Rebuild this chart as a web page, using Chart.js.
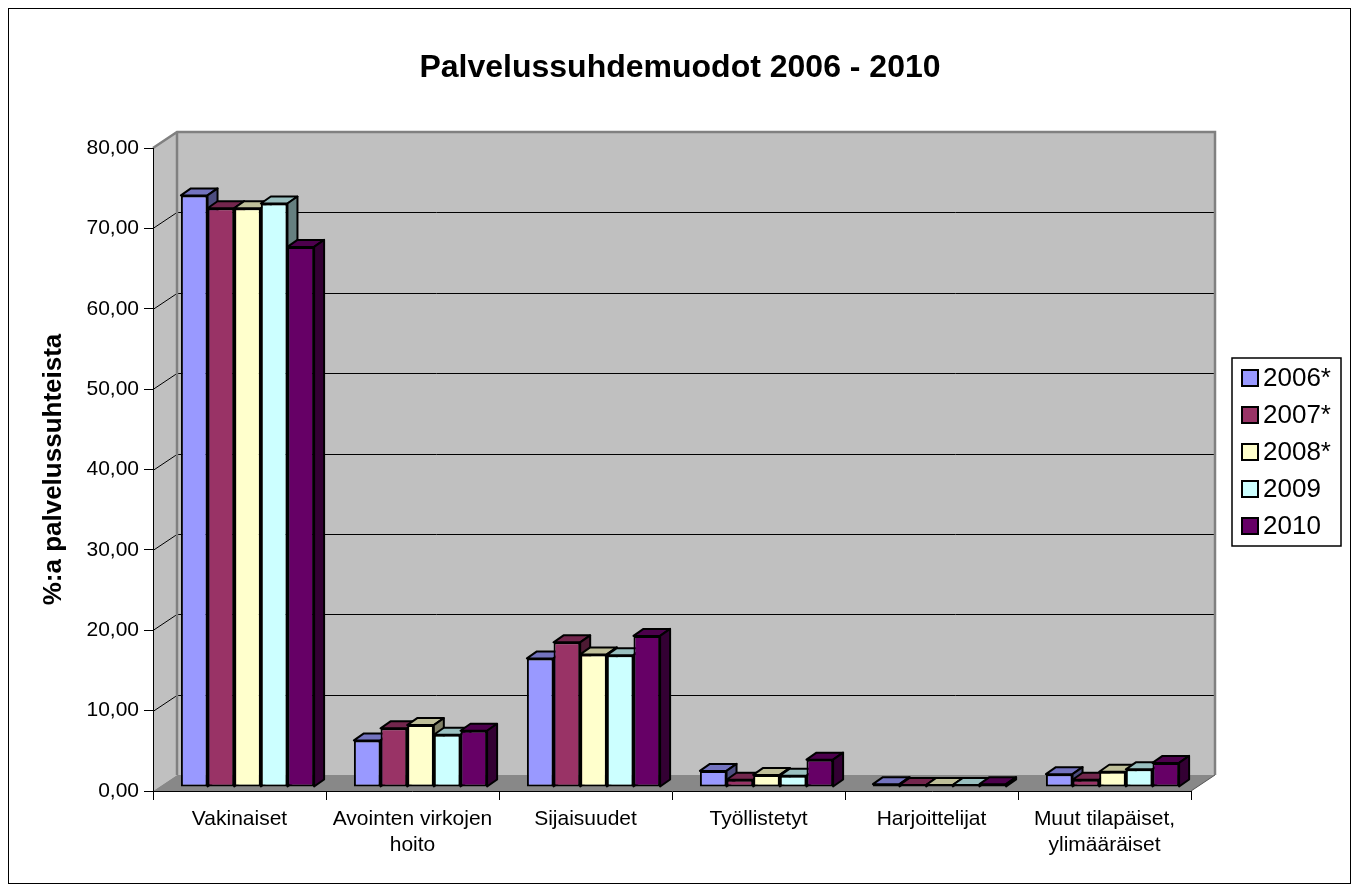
<!DOCTYPE html>
<html lang="fi">
<head>
    <meta charset="utf-8" />
    <title>Palvelussuhdemuodot 2006 - 2010</title>
    <script src="https://cdnjs.cloudflare.com/ajax/libs/Chart.js/4.4.1/chart.umd.min.js"></script>
    <style>
        html, body { margin: 0; padding: 0; background: #fff; }
        canvas { display: block; }
    </style>
</head>
<body>
    <canvas id="palvelusChart" width="1359" height="891"></canvas>
    <script>
        const categories = ['Vakinaiset', ['Avointen virkojen', 'hoito'], 'Sijaisuudet', 'Työllistetyt', 'Harjoittelijat', ['Muut tilapäiset,', 'ylimääräiset']];
        const years = ['2006*', '2007*', '2008*', '2009', '2010'];
        const v2006 = [73.6, 5.8, 16.0, 2.0, 0.35, 1.6];
        const v2007 = [72.0, 7.3, 18.0, 0.9, 0.25, 0.9];
        const v2008 = [72.0, 7.7, 16.5, 1.5, 0.25, 1.9];
        const v2009 = [72.6, 6.5, 16.4, 1.4, 0.25, 2.2];
        const v2010 = [67.2, 7.0, 18.8, 3.4, 0.35, 3.0];
        const yTicks = [0, 10, 20, 30, 40, 50, 60, 70, 80];

        const seriesValues = [v2006, v2007, v2008, v2009, v2010];
        const colors = ['#9999FF', '#993366', '#FFFFCC', '#CCFFFF', '#660066'];
        const FONT = "'Liberation Sans', Arial, sans-serif";

        // depth of the walls and of the bars (pixels)
        const WALL_DX = 24, WALL_DY = 16;
        const BAR_DX = 10, BAR_DY = 7;
        const BAR_SHIFT_X = 8, BAR_SHIFT_Y = -4;

        function shade(hex, f) {
            const n = parseInt(hex.slice(1), 16);
            const r = Math.round(((n >> 16) & 255) * f);
            const g = Math.round(((n >> 8) & 255) * f);
            const b = Math.round((n & 255) * f);
            return 'rgb(' + r + ',' + g + ',' + b + ')';
        }

        function poly(ctx, pts, fill, stroke, lw) {
            ctx.beginPath();
            ctx.moveTo(pts[0][0], pts[0][1]);
            for (let i = 1; i < pts.length; i++) ctx.lineTo(pts[i][0], pts[i][1]);
            ctx.closePath();
            if (fill) { ctx.fillStyle = fill; ctx.fill(); }
            if (stroke) { ctx.strokeStyle = stroke; ctx.lineWidth = lw || 1; ctx.stroke(); }
        }

        const wallsPlugin = {
            id: 'walls',
            beforeDraw(chart) {
                const ctx = chart.ctx;
                const ys = chart.scales.y;
                const L = chart.chartArea.left, R = chart.chartArea.right;
                const T = ys.getPixelForValue(yTicks[yTicks.length - 1]);
                const B = ys.getPixelForValue(0);
                ctx.save();
                // back wall
                poly(ctx, [[L + WALL_DX, T - WALL_DY], [R + WALL_DX, T - WALL_DY], [R + WALL_DX, B - WALL_DY], [L + WALL_DX, B - WALL_DY]], '#C0C0C0');
                // left wall
                poly(ctx, [[L, T], [L + WALL_DX, T - WALL_DY], [L + WALL_DX, B - WALL_DY], [L, B]], '#C0C0C0');
                // floor
                poly(ctx, [[L, B], [R, B], [R + WALL_DX, B - WALL_DY], [L + WALL_DX, B - WALL_DY]], '#888888');
                // gridlines
                ctx.strokeStyle = '#000';
                ctx.lineWidth = 1;
                yTicks.forEach(v => {
                    if (v === 0 || v === yTicks[yTicks.length - 1]) return;
                    const y = Math.round(ys.getPixelForValue(v)) + 0.5;
                    ctx.beginPath();
                    ctx.moveTo(L, y);
                    ctx.lineTo(L + WALL_DX, y - WALL_DY);
                    ctx.lineTo(R + WALL_DX, y - WALL_DY);
                    ctx.stroke();
                });
                // wall outlines
                ctx.strokeStyle = '#808080';
                ctx.lineWidth = 2.5;
                ctx.beginPath();
                ctx.moveTo(L, T);
                ctx.lineTo(L + WALL_DX, T - WALL_DY);
                ctx.lineTo(R + WALL_DX, T - WALL_DY);
                ctx.lineTo(R + WALL_DX, B - WALL_DY);
                ctx.moveTo(L + WALL_DX, T - WALL_DY);
                ctx.lineTo(L + WALL_DX, B - WALL_DY);
                ctx.stroke();
                ctx.strokeStyle = '#555';
                ctx.lineWidth = 1;
                ctx.beginPath();
                ctx.moveTo(R, B);
                ctx.lineTo(R + WALL_DX, B - WALL_DY);
                ctx.stroke();
                ctx.restore();
            },
            beforeDatasetDraw() {
                return false;
            },
            afterDatasetsDraw(chart) {
                const ctx = chart.ctx;
                ctx.save();
                ctx.translate(BAR_SHIFT_X, BAR_SHIFT_Y);
                ctx.lineJoin = 'round';
                seriesValues.forEach((vals, i) => {
                    const meta = chart.getDatasetMeta(i);
                    meta.data.forEach(bar => {
                        bar.draw(ctx);
                        const p = bar.getProps(['x', 'y', 'base', 'width'], true);
                        const l = p.x - p.width / 2, r = p.x + p.width / 2;
                        poly(ctx, [[l, p.y], [r, p.y], [r + BAR_DX, p.y - BAR_DY], [l + BAR_DX, p.y - BAR_DY]], shade(colors[i], 0.75), '#000', 2);
                        poly(ctx, [[r, p.y], [r + BAR_DX, p.y - BAR_DY], [r + BAR_DX, p.base - BAR_DY], [r, p.base]], shade(colors[i], 0.5), '#000', 2);
                    });
                });
                ctx.restore();
            },
            afterDraw(chart) {
                const ctx = chart.ctx;
                ctx.save();
                // outer frame
                ctx.strokeStyle = '#000';
                ctx.lineWidth = 1;
                ctx.strokeRect(8.5, 8.5, 1342, 875);
                // title
                ctx.fillStyle = '#000';
                ctx.font = 'bold 32px ' + FONT;
                ctx.textAlign = 'center';
                ctx.textBaseline = 'middle';
                ctx.fillText('Palvelussuhdemuodot 2006 - 2010', 680, 68);
                // legend
                ctx.lineWidth = 1.5;
                ctx.strokeRect(1232, 358, 109, 188);
                ctx.font = '26px ' + FONT;
                ctx.textAlign = 'left';
                years.forEach((yr, i) => {
                    const cy = 378 + i * 37;
                    ctx.fillStyle = colors[i];
                    ctx.fillRect(1242, cy - 8, 16, 16);
                    ctx.lineWidth = 2;
                    ctx.strokeRect(1242, cy - 8, 16, 16);
                    ctx.fillStyle = '#000';
                    ctx.fillText(yr, 1263, cy + 1);
                });
                ctx.restore();
            }
        };

        Chart.defaults.font.family = FONT;
        Chart.defaults.color = '#000';

        const ctx = document.getElementById('palvelusChart').getContext('2d');
        const chart = new Chart(ctx, {
            type: 'bar',
            data: {
                labels: categories,
                datasets: seriesValues.map((vals, i) => ({
                    label: years[i],
                    data: vals,
                    backgroundColor: colors[i],
                    borderColor: '#000',
                    borderWidth: 2,
                    borderSkipped: false,
                    categoryPercentage: 0.77,
                    barPercentage: 1.0
                }))
            },
            options: {
                responsive: false,
                animation: false,
                layout: { padding: { top: 148, right: 168, left: 0, bottom: 0 } },
                plugins: {
                    legend: { display: false },
                    tooltip: { enabled: false },
                    title: { display: false }
                },
                scales: {
                    x: {
                        grid: { offset: true, drawOnChartArea: false, color: '#000', tickLength: 9 },
                        border: { display: true, color: '#000', width: 1 },
                        ticks: { font: { size: 21, lineHeight: 1.2 }, padding: 7, maxRotation: 0, autoSkip: false },
                        afterFit(scale) { scale.height = 100; }
                    },
                    y: {
                        min: 0,
                        max: 80,
                        grid: { drawOnChartArea: false, color: '#000', tickLength: 9 },
                        border: { display: true, color: '#000', width: 1 },
                        ticks: {
                            stepSize: 10,
                            font: { size: 21 },
                            padding: 5,
                            callback: v => v.toFixed(2).replace('.', ',')
                        },
                        title: {
                            display: true,
                            text: '%:a palvelussuhteista',
                            font: { size: 26, weight: 'bold' },
                            padding: { top: 38 }
                        },
                        afterFit(scale) { scale.width = 153; }
                    }
                }
            },
            plugins: [wallsPlugin]
        });
    </script>
</body>
</html>
